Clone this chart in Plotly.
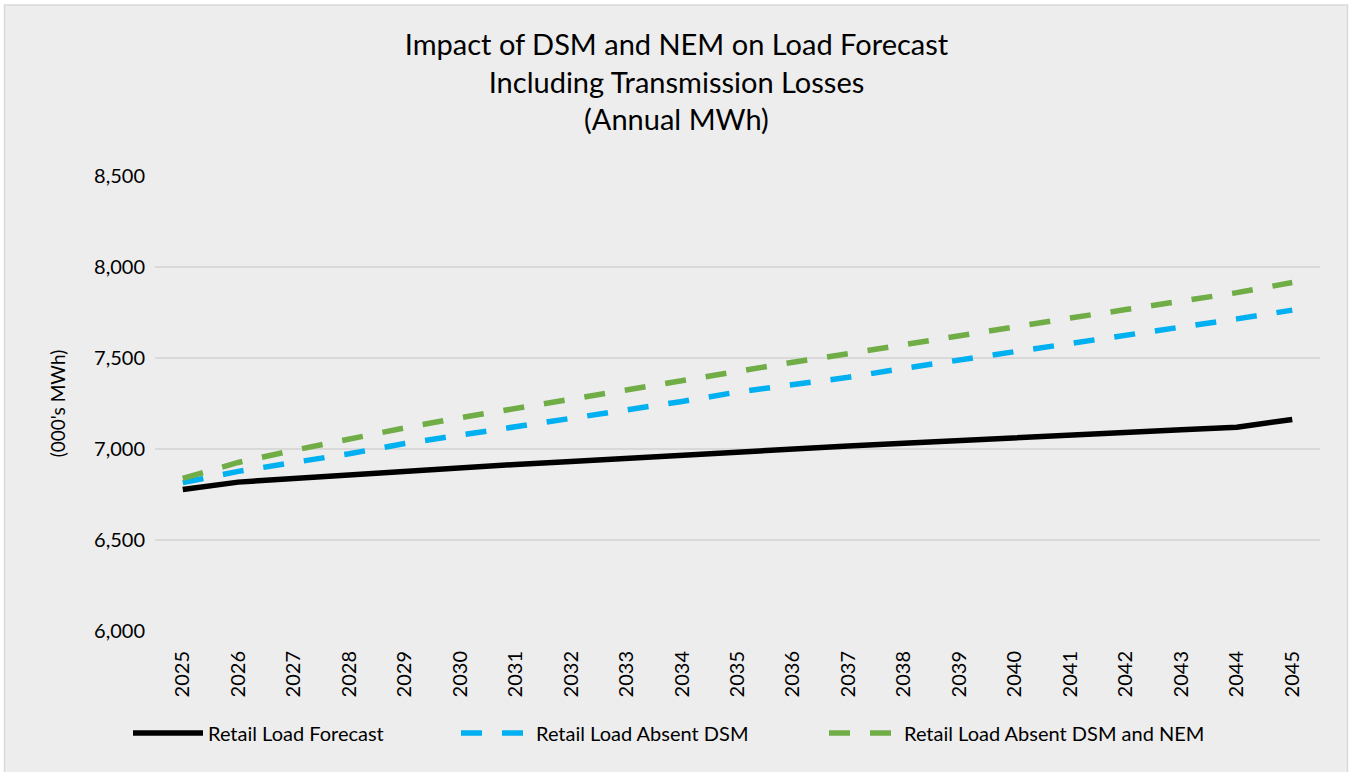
import plotly.graph_objects as go

years = [str(y) for y in range(2025, 2046)]
retail_load_forecast = [6778, 6818, 6838, 6858, 6880, 6897, 6915, 6932, 6950, 6968,
                        6984, 7000, 7016, 7032, 7048, 7062, 7077, 7091, 7106, 7120, 7162]
absent_dsm = [6815, 6877, 6926, 6974, 7030, 7075, 7122, 7168, 7215, 7261,
              7313, 7353, 7394, 7443, 7492, 7535, 7580, 7624, 7666, 7715, 7763]
absent_dsm_nem = [6839, 6926, 6993, 7056, 7116, 7172, 7224, 7276, 7328, 7379,
                  7430, 7477, 7524, 7574, 7624, 7672, 7720, 7766, 7813, 7859, 7915]
y_ticks = [6000, 6500, 7000, 7500, 8000, 8500]

FONT = "Lato"
fig = go.Figure()
fig.add_trace(go.Scatter(x=years, y=retail_load_forecast, mode="lines",
                         name="Retail Load Forecast", legend="legend",
                         line=dict(color="#000000", width=5.5)))
fig.add_trace(go.Scatter(x=years, y=absent_dsm, mode="lines",
                         name="Retail Load Absent DSM", legend="legend2",
                         line=dict(color="#00B0F0", width=5.5, dash="21px,20px")))
fig.add_trace(go.Scatter(x=years, y=absent_dsm_nem, mode="lines",
                         name="Retail Load Absent DSM and NEM", legend="legend3",
                         line=dict(color="#70AD47", width=5.5, dash="21px,20px")))

W, H = 1351, 772
L, R, T, B = 155, 31, 176, 141
pw, ph = W - L - R, H - T - B

def px2x(px):
    return (px - L) / pw

def py2y(py):
    return (H - B - py) / ph

leg_common = dict(orientation="h", yanchor="middle", xanchor="left",
                  font=dict(family=FONT, size=20, color="#000000"),
                  bgcolor="rgba(0,0,0,0)", itemwidth=70)

fig.update_layout(
    width=W, height=H,
    showlegend=True,
    margin=dict(l=L, r=R, t=T, b=B, autoexpand=False),
    paper_bgcolor="#FFFFFF",
    plot_bgcolor="#EDEDED",
    font=dict(family=FONT, color="#000000"),
    title=dict(text="Impact of DSM and NEM on Load Forecast<br>Including Transmission Losses<br>(Annual MWh)",
               x=676.5 / W, xref="container", xanchor="center",
               y=1 - 55 / H, yref="container", yanchor="top",
               font=dict(family=FONT, size=29, color="#000000")),
    xaxis=dict(type="category", range=[-0.5, 20.5], tickangle=-90,
               showgrid=False, showline=False, zeroline=False,
               ticks="outside", ticklen=11, tickcolor="rgba(0,0,0,0)",
               tickfont=dict(family=FONT, size=20, color="#000000")),
    yaxis=dict(range=[6000, 8500], tickvals=y_ticks, tickformat=",",
               showgrid=True, gridcolor="#D9D9D9", gridwidth=1.5,
               showline=False, zeroline=False,
               ticks="outside", ticklen=5, tickcolor="rgba(0,0,0,0)",
               tickfont=dict(family=FONT, size=20, color="#000000"),
               title=dict(text="(000's MWh)", standoff=23,
                          font=dict(family=FONT, size=19, color="#000000"))),
    legend=dict(x=px2x(128), y=py2y(733), **leg_common),
    legend2=dict(x=px2x(456), y=py2y(733), **leg_common),
    legend3=dict(x=px2x(824), y=py2y(733), **leg_common),
    shapes=[dict(type="rect", xref="paper", yref="paper", layer="below",
                 x0=px2x(4.5), x1=px2x(1347.5), y0=py2y(780), y1=py2y(5),
                 fillcolor="#EDEDED", line=dict(color="#D9D9D9", width=1.5))],
)

fig.write_html("out.html", config={"displayModeBar": False},
               post_script="document.body.style.margin='0';")
